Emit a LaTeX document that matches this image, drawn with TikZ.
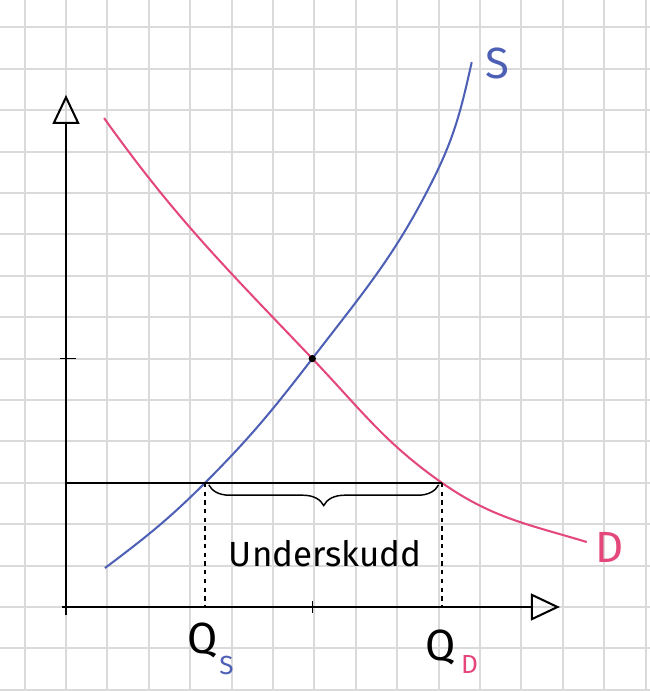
\documentclass[tikz,border=0pt]{standalone}
\usepackage{fontspec}
\setmainfont{Fira Sans}
\usetikzlibrary{arrows.meta,decorations.pathreplacing}
\definecolor{penblue}{RGB}{78,96,182}
\definecolor{penred}{RGB}{228,72,122}
\definecolor{gridgray}{RGB}{218,218,218}

\begin{document}
\begin{tikzpicture}[
	axis/.style={line width=1.5pt, -{Triangle[open,length=7mm,width=6.5mm,line width=1.4pt]}},
	curve/.style={line width=1.4pt},
	guide/.style={line width=1pt},
	biglbl/.style={font=\fontsize{30}{34}\selectfont},
	sublbl/.style={font=\fontsize{18}{20}\selectfont}]
	\useasboundingbox (-1.594,-2.029) rectangle (14.106,14.662);
	\fill[white] (-1.594,-2.029) rectangle (14.106,14.662);
	\draw[gridgray, line width=1.3pt] (-1.594,-2.029) grid (14.106,14.662);
	% axes
	\coordinate (ybot) at (0,-0.2);
	\coordinate (ytop) at (0,12.37);
	\coordinate (xbeg) at (-0.1,0);
	\coordinate (xend) at (11.93,0);
	\draw[axis] (ybot) -- (ytop);
	\draw[axis] (xbeg) -- (xend);
	% points
	\coordinate (E) at (5.95,6);
	\coordinate (p) at (0,3);
	\coordinate (qstop) at (3.36,3);
	\coordinate (qdtop) at (9.08,3);
	\coordinate (qsbot) at (3.36,0);
	\coordinate (qdbot) at (9.08,0);
	\coordinate (bl) at (3.45,2.95);
	\coordinate (br) at (9.0,2.95);
	\coordinate (sbeg) at (0.94,0.94);
	\coordinate (sup) at (8.86,10.31);
	\coordinate (send) at (9.8,13.16);
	\coordinate (dbeg) at (0.92,11.81);
	\coordinate (dend) at (12.58,1.57);
	% curves
	\draw[penblue, curve] (sbeg) to[out=36.9, in=-135] (qstop) to[out=45, in=-127.6] (E)
		to[out=52.4, in=-116.6] (sup) to[out=63.4, in=-102.5] (send);
	\draw[penred, curve] (dbeg) to[out=-54.5, in=133.6] (E) to[out=-46.4, in=145] (qdtop)
		to[out=-35, in=163.3] (dend);
	% shortage
	\draw[guide] (p) -- (qdtop);
	\draw[guide, dashed] (qstop) -- (qsbot) (qdtop) -- (qdbot);
	\draw[guide, decorate, decoration={brace, mirror, amplitude=0.5cm}] (bl) -- (br);
	\draw[guide] (5.95,0.15) -- (5.95,-0.15)
		(-0.15,6) -- (0.25,6);
	\fill (E) circle (2.5pt);
	% labels
	\node[font=\fontsize{24}{28}\selectfont] (gap) at (6.26,1.3) {Underskudd};
	\node[biglbl] (qs) at (3.31,-0.8) {Q};
	\node[sublbl, penblue] (qssub) at (3.88,-1.42) {S};
	\node[biglbl] (qd) at (9.05,-0.97) {Q};
	\node[sublbl, penred] (qdsub) at (9.75,-1.4) {D};
	\node[biglbl, penblue] (slbl) at (10.43,13.14) {S};
	\node[biglbl, penred] (dlbl) at (13.14,1.45) {D};
\end{tikzpicture}
\end{document}
